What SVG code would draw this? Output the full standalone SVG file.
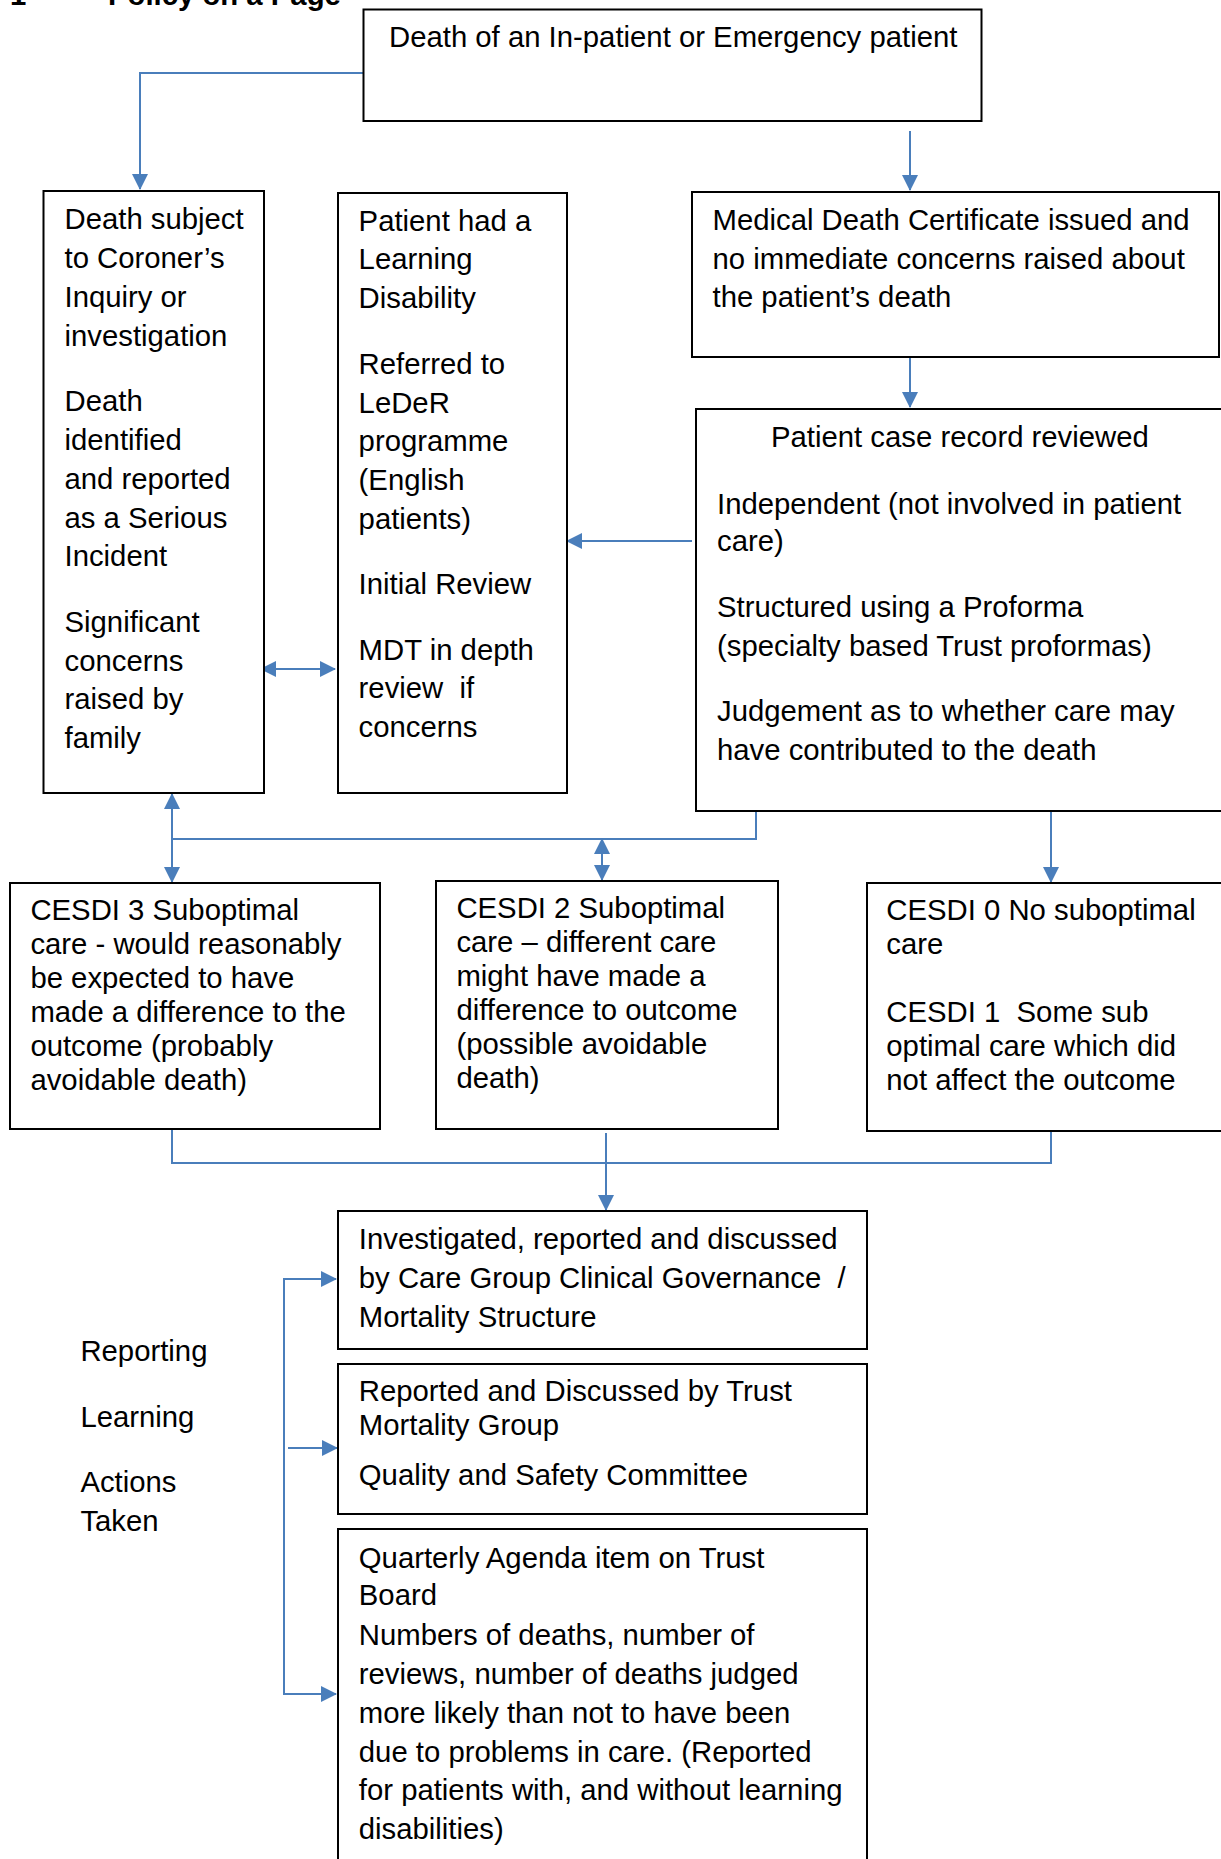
<svg xmlns="http://www.w3.org/2000/svg" width="1221" height="1859" viewBox="0 0 1221 1859">
<style>
.box{fill:#fff;stroke:#000;stroke-width:2}
.t{font-family:"Liberation Sans",Arial,sans-serif;font-size:29.3px;fill:#000;white-space:pre}
.b{font-weight:bold}
.c{fill:none;stroke:#4A7EBB;stroke-width:2}
</style>
<defs>
<marker id="ah" markerUnits="userSpaceOnUse" markerWidth="16" markerHeight="16" refX="15" refY="8" orient="auto-start-reverse" viewBox="0 0 16 16">
<path d="M0,0 L16,8 L0,16 Z" fill="#4A7EBB"/>
</marker>
</defs>
<rect width="1221" height="1859" fill="#fff"/>
<g id="title">
<text class="t b" x="10" y="5">1</text>
<text class="t b" x="108" y="5">Policy on a Page</text>
</g>
<g id="connectors">
<path class="c" d="M363,73 H140 V189" marker-end="url(#ah)"/>
<path class="c" d="M910,131 V190" marker-end="url(#ah)"/>
<path class="c" d="M910,357 V407" marker-end="url(#ah)"/>
<path class="c" d="M692,541 H567" marker-end="url(#ah)"/>
<path class="c" d="M261,669 H335" marker-start="url(#ah)" marker-end="url(#ah)"/>
<path class="c" d="M756,811 V839 H172"/>
<path class="c" d="M172,794 V882" marker-start="url(#ah)" marker-end="url(#ah)"/>
<path class="c" d="M602,839 V880" marker-start="url(#ah)" marker-end="url(#ah)"/>
<path class="c" d="M1051,811 V882" marker-end="url(#ah)"/>
<path class="c" d="M172,1129 V1163 H1051 V1131"/>
<path class="c" d="M606,1133 V1210" marker-end="url(#ah)"/>
<path class="c" d="M336,1279 H284 V1694 H336" marker-start="url(#ah)" marker-end="url(#ah)"/>
<path class="c" d="M288,1448 H337" marker-end="url(#ah)"/>
</g>
<g id="n-death">
<rect class="box" x="363.5" y="9.5" width="618" height="111.5"/>
<text class="t" x="389" y="47">Death of an In-patient or Emergency patient</text>
</g>
<g id="n-coroner">
<rect class="box" x="43.5" y="191" width="220.5" height="602"/>
<text class="t" x="64.5">
<tspan x="64.5" y="229.4">Death subject</tspan>
<tspan x="64.5" y="268">to Coroner’s</tspan>
<tspan x="64.5" y="306.7">Inquiry or</tspan>
<tspan x="64.5" y="345.5">investigation</tspan>
<tspan x="64.5" y="411.3">Death</tspan>
<tspan x="64.5" y="450">identified</tspan>
<tspan x="64.5" y="488.8">and reported</tspan>
<tspan x="64.5" y="527.5">as a Serious</tspan>
<tspan x="64.5" y="566.2">Incident</tspan>
<tspan x="64.5" y="632">Significant</tspan>
<tspan x="64.5" y="670.7">concerns</tspan>
<tspan x="64.5" y="709.4">raised by</tspan>
<tspan x="64.5" y="748">family</tspan>
</text>
</g>
<g id="n-learning">
<rect class="box" x="338" y="193" width="229" height="600"/>
<text class="t">
<tspan x="358.6" y="230.6">Patient had a</tspan>
<tspan x="358.6" y="269.4">Learning</tspan>
<tspan x="358.6" y="308.2">Disability</tspan>
<tspan x="358.6" y="373.8">Referred to</tspan>
<tspan x="358.6" y="412.6">LeDeR</tspan>
<tspan x="358.6" y="451.4">programme</tspan>
<tspan x="358.6" y="490.2">(English</tspan>
<tspan x="358.6" y="529">patients)</tspan>
<tspan x="358.6" y="594.4">Initial Review</tspan>
<tspan x="358.6" y="659.6">MDT in depth</tspan>
<tspan x="358.6" y="698.4">review  if</tspan>
<tspan x="358.6" y="737.2">concerns</tspan>
</text>
</g>
<g id="n-certificate">
<rect class="box" x="692" y="192" width="527" height="165"/>
<text class="t">
<tspan x="712.5" y="229.8">Medical Death Certificate issued and</tspan>
<tspan x="712.5" y="268.6">no immediate concerns raised about</tspan>
<tspan x="712.5" y="307.4">the patient’s death</tspan>
</text>
</g>
<g id="n-review">
<rect class="box" x="696" y="409" width="530" height="402"/>
<text class="t">
<tspan x="964" y="447" text-anchor="middle">Patient case record reviewed</tspan>
<tspan x="717" y="513.5">Independent (not involved in patient</tspan>
<tspan x="717" y="551.3">care)</tspan>
<tspan x="717" y="617.2">Structured using a Proforma</tspan>
<tspan x="717" y="656">(specialty based Trust proformas)</tspan>
<tspan x="717" y="721.4">Judgement as to whether care may</tspan>
<tspan x="717" y="759.6">have contributed to the death</tspan>
</text>
</g>
<g id="n-cesdi3">
<rect class="box" x="10" y="883" width="370" height="246"/>
<text class="t">
<tspan x="30.4" y="920">CESDI 3 Suboptimal</tspan>
<tspan x="30.4" y="954">care - would reasonably</tspan>
<tspan x="30.4" y="988">be expected to have</tspan>
<tspan x="30.4" y="1022">made a difference to the</tspan>
<tspan x="30.4" y="1056">outcome (probably</tspan>
<tspan x="30.4" y="1090">avoidable death)</tspan>
</text>
</g>
<g id="n-cesdi2">
<rect class="box" x="436" y="881" width="342" height="248"/>
<text class="t">
<tspan x="456.4" y="918">CESDI 2 Suboptimal</tspan>
<tspan x="456.4" y="952">care – different care</tspan>
<tspan x="456.4" y="986">might have made a</tspan>
<tspan x="456.4" y="1020">difference to outcome</tspan>
<tspan x="456.4" y="1054">(possible avoidable</tspan>
<tspan x="456.4" y="1088">death)</tspan>
</text>
</g>
<g id="n-cesdi0">
<rect class="box" x="867" y="883" width="360" height="248"/>
<text class="t">
<tspan x="886.3" y="920">CESDI 0 No suboptimal</tspan>
<tspan x="886.3" y="954">care</tspan>
<tspan x="886.3" y="1022">CESDI 1  Some sub</tspan>
<tspan x="886.3" y="1056">optimal care which did</tspan>
<tspan x="886.3" y="1090">not affect the outcome</tspan>
</text>
</g>
<g id="n-labels">
<text class="t" x="80.4" y="1361">Reporting</text>
<text class="t" x="80.4" y="1427">Learning</text>
<text class="t" x="80.4" y="1492">Actions</text>
<text class="t" x="80.4" y="1531">Taken</text>
</g>
<g id="n-caregroup">
<rect class="box" x="338" y="1211" width="529" height="138"/>
<text class="t">
<tspan x="358.8" y="1249.3">Investigated, reported and discussed</tspan>
<tspan x="358.8" y="1288">by Care Group Clinical Governance  /</tspan>
<tspan x="358.8" y="1326.8">Mortality Structure</tspan>
</text>
</g>
<g id="n-mortality">
<rect class="box" x="338" y="1364" width="529" height="150"/>
<text class="t">
<tspan x="358.8" y="1400.7">Reported and Discussed by Trust</tspan>
<tspan x="358.8" y="1435.2">Mortality Group</tspan>
<tspan x="358.8" y="1485.2">Quality and Safety Committee</tspan>
</text>
</g>
<g id="n-board">
<rect class="box" x="338" y="1529" width="529" height="350"/>
<text class="t">
<tspan x="358.8" y="1567.6">Quarterly Agenda item on Trust</tspan>
<tspan x="358.8" y="1605.4">Board</tspan>
<tspan x="358.8" y="1644.8">Numbers of deaths, number of</tspan>
<tspan x="358.8" y="1683.8">reviews, number of deaths judged</tspan>
<tspan x="358.8" y="1722.9">more likely than not to have been</tspan>
<tspan x="358.8" y="1761.9">due to problems in care. (Reported</tspan>
<tspan x="358.8" y="1800">for patients with, and without learning</tspan>
<tspan x="358.8" y="1839">disabilities)</tspan>
</text>
</g>
</svg>
